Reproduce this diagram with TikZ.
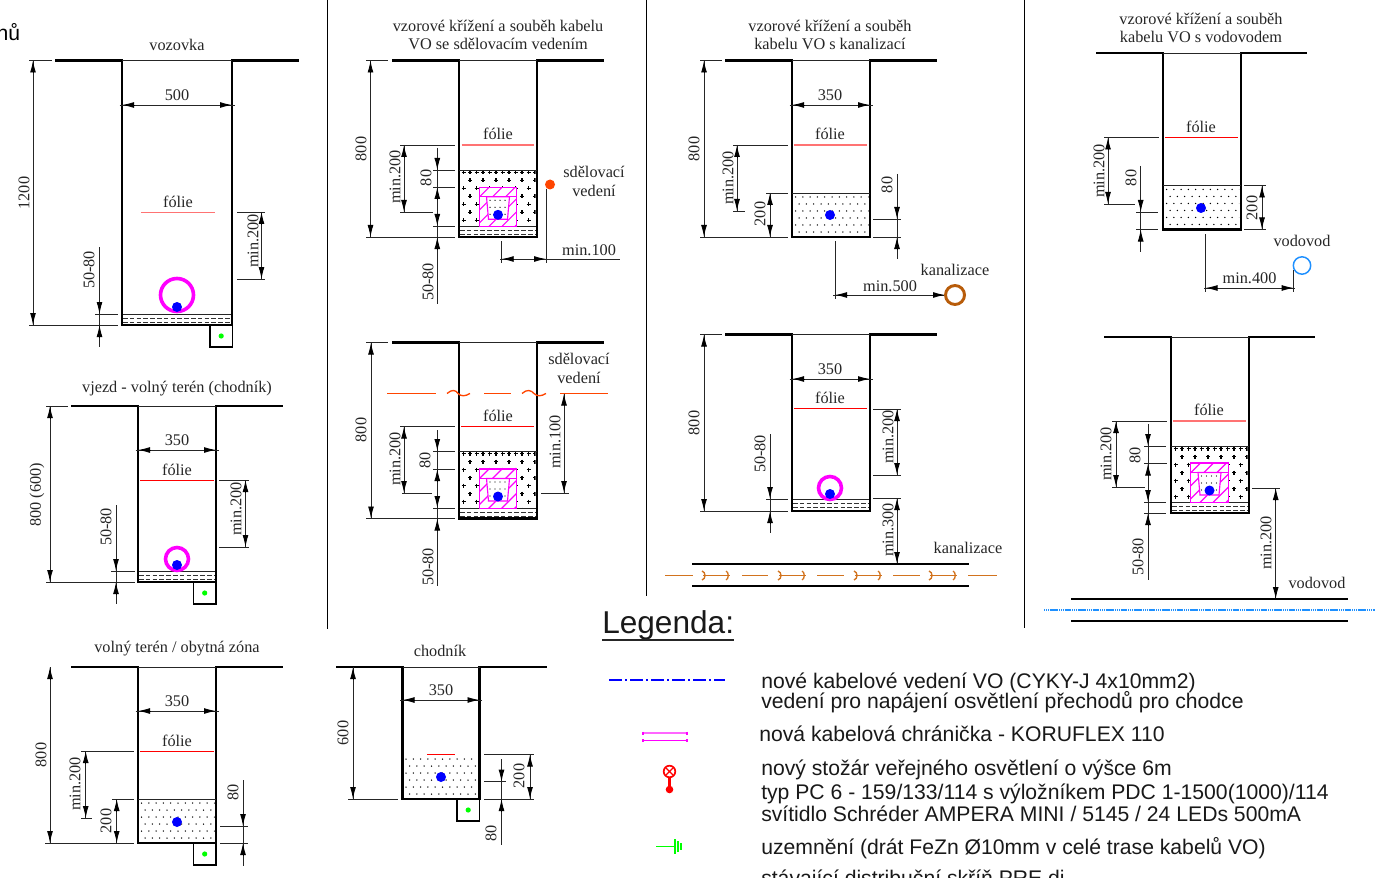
\documentclass[tikz,border=0pt]{standalone}
\usepackage{fontspec}
\setmainfont{Liberation Serif}
\newfontfamily\legfont{Liberation Sans}
\usetikzlibrary{arrows.meta}
\definecolor{mg}{RGB}{255,0,255}
\definecolor{mglight}{RGB}{255,102,255}
\definecolor{sew}{RGB}{210,115,30}
\definecolor{sewc}{RGB}{184,92,10}
\definecolor{wat}{RGB}{30,144,255}
\definecolor{com}{RGB}{255,69,0}
\definecolor{gr}{RGB}{0,255,0}
\newcounter{lb}
\tikzset{
  lbl/.style={inner sep=0pt,font=\fontsize{12.2}{14}\selectfont,text=black!85},
  vlbl/.style={lbl,rotate=90},
  leg/.style={inner sep=0pt,anchor=base west,font=\legfont\fontsize{15.87}{18}\selectfont,text=black!90},
  wall/.style={line width=1.9pt,line join=miter,line cap=butt},
  dim/.style={line width=0.65pt,black!85},
  tip/.style={line width=0.65pt,black,-{Latex[length=9pt,width=4.4pt]}},
  folieA/.style={line width=1.3pt,color=red!55!white},
  folieB/.style={line width=1pt,color=red},
  tube/.style={line width=2.7pt,color=mg},
  bluedot/.style={fill=blue,draw=none},
  greendot/.style={fill=gr,draw=none},
  sewer/.style={line width=1pt,color=sew},
  mag/.style={line width=0.85pt,color=mg}
}
\newcommand\lab[3]{\stepcounter{lb}\node[lbl] (t\arabic{lb}) at (#1,#2) {#3};}
\newcommand\vlab[3]{\stepcounter{lb}\node[vlbl] (t\arabic{lb}) at (#1,#2) {#3};}
\newcommand\legt[3]{\stepcounter{lb}\node[leg] (t\arabic{lb}) at (#1,#2) {#3};}
\newcommand\trench[6]{%
  \draw[wall] (#5,#3)--(#1,#3)--(#1,#4)--(#2,#4)--(#2,#3)--(#6,#3);
  \draw[dim] (#1,#3)--(#2,#3);}
\newcommand\hl[3]{\draw[dim] (#1,#3)--(#2,#3);}
\newcommand\vl[3]{\draw[dim] (#1,#2)--(#1,#3);}
\newcommand\tipd[2]{\draw[tip] (#1,#2-12)--(#1,#2);}
\newcommand\tipu[2]{\draw[tip] (#1,#2+12)--(#1,#2);}
\newcommand\tipl[2]{\draw[tip] (#1+12,#2)--(#1,#2);}
\newcommand\tipr[2]{\draw[tip] (#1-12,#2)--(#1,#2);}
\newcommand\vd[3]{\vl{#1}{#2}{#3}\tipu{#1}{#2}\tipd{#1}{#3}}
\newcommand\hd[3]{\draw[dim] (#1-2.5,#3)--(#2+2.5,#3);\tipl{#1}{#3}\tipr{#2}{#3}}
\newcommand\dotsfill[4]{%
  \begin{scope}
    \clip (#1,#3) rectangle (#2,#4);
    \foreach \r in {0,...,7}{\foreach \c in {0,...,11}{
      \pgfmathsetmacro\xx{#1+2+\c*7.3+mod(\r,2)*3.6}
      \pgfmathsetmacro\yy{#3+4+\r*7}
      \fill[black] (\xx,\yy) circle (0.75);
    }}
  \end{scope}}
\newcommand\plusfill[4]{%
  \begin{scope}
    \clip (#1,#3) rectangle (#2,#4);
    \foreach \r in {0,...,7}{\foreach \c in {0,...,6}{
      \pgfmathsetmacro\xx{#1+3+\c*13+mod(\r,2)*6.5}
      \pgfmathsetmacro\yy{#3+2.5+\r*8}
      \draw[black,line width=0.85pt] (\xx-2,\yy)--(\xx+2,\yy) (\xx,\yy-2)--(\xx,\yy+2);
    }}
    \foreach \c in {0,...,5}{
      \pgfmathsetmacro\xx{#1+9.5+\c*13}
      \pgfmathsetmacro\yy{#3+2.5}
      \draw[black,line width=0.85pt] (\xx-2,\yy)--(\xx+2,\yy) (\xx,\yy-2)--(\xx,\yy+2);
    }
  \end{scope}}
\newcommand\bed[3]{%
  \draw[dim] (#1+1,#3)--(#2-1,#3);
  \draw[black!80,line width=0.5pt,dash pattern=on 3.5pt off 1.6pt] (#1+1,#3+4.5)--(#2-1,#3+4.5);
  \draw[black!80,line width=0.5pt,dash pattern=on 3.5pt off 1.6pt] (#1+1,#3+8.5)--(#2-1,#3+8.5);}
\newcommand\conduit[2]{%
  \begin{scope}
    \clip (#1-18.7,#2) rectangle (#1+18.7,#2+39.5);
    \fill[white] (#1-18.7,#2) rectangle (#1+18.7,#2+39.5);
    \foreach \k in {0,...,8}{
      \draw[mag] (#1-64+\k*13,#2+42)--(#1-64+\k*13+44,#2-2);
    }
  \end{scope}
  \draw[mag] (#1-18.7,#2) rectangle (#1+18.7,#2+39.5);
  \draw[mag] (#1-18.7,#2+9.5)--(#1+18.7,#2+9.5);
  \fill[white] (#1-11.5,#2+9.5)--(#1+11.5,#2+9.5)--(#1+9.5,#2+32)--(#1-9.5,#2+32)--cycle;
  \draw[mag] (#1-11.5,#2+9.5)--(#1+11.5,#2+9.5)--(#1+9.5,#2+32)--(#1-9.5,#2+32)--cycle;
  \foreach \yy in {13,20,27}{\foreach \dx in {-8,-3,2,7}{
    \fill[black] (#1+\dx,#2+\yy) circle (0.7);}}
  \fill[bluedot] (#1,#2+27.5) circle (5);}
\newcommand\gbox[2]{%
  \draw[line width=1.3pt] (#1,#2)--(#1,#2+22)--(#1+22.5,#2+22)--(#1+22.5,#2);
  \fill[greendot] (#1+11.2,#2+11) circle (2.6);}
\newcommand\swseg[1]{%
  \draw[sewer] (#1,575.5)--(#1+27,575.5);
  \draw[sewer] (#1-1,571) .. controls (#1+3,572) and (#1+3,579) .. (#1-1,580);
  \draw[sewer] (#1+23,571) .. controls (#1+26,572) and (#1+26,579) .. (#1+23,580);}
\begin{document}
\begin{tikzpicture}[x=0.75pt,y=-0.75pt]
\clip (0,0) rectangle (1383,877);
\fill[white] (0,0) rectangle (1383,877);

\draw[line width=0.7pt] (327,0)--(327,629);
\draw[line width=0.7pt] (646,0)--(646,596);
\draw[line width=0.7pt] (1024,0)--(1024,628);

\stepcounter{lb}\node[inner sep=0pt,anchor=base east,font=\legfont\fontsize{15.87}{18}\selectfont] (t\arabic{lb}) at (20.5,41) {nů};

%%% 1 vozovka
\bed{122}{232}{314}
\trench{122}{232}{60.5}{325}{55}{299}
\gbox{210}{325}
\lab{177}{45}{vozovka}
\hd{122}{232}{105}\lab{177}{95}{500}
\hl{29}{52}{60.5}\hl{29}{118}{325}
\vd{33}{60.5}{325}\vlab{24}{193}{1200}
\vl{99.5}{247}{347}\tipd{99.5}{314}\tipu{99.5}{325}\hl{95}{118}{314}
\vlab{89}{270}{50-80}
\lab{178}{202}{fólie}\draw[folieA] (141,212.5)--(215,212.5);
\hl{237}{265}{212}\hl{237}{265}{279}\vd{261.5}{212}{279}\vlab{253}{241}{min.200}
\draw[tube] (177,295) circle (16.5);
\fill[bluedot] (177,307) circle (5);

%%% 2 vjezd
\bed{138}{216}{571}
\trench{138}{216}{406}{582}{71}{283}
\gbox{193.5}{582}
\lab{177}{388.5}{vjezd - volný terén (chodník)}
\hd{138}{216}{450}\lab{177}{440}{350}
\lab{177}{470}{fólie}\draw[folieB] (140,480.5)--(214,480.5);
\hl{46}{68}{406}\hl{46}{135}{582}\vd{50}{406}{582}\vlab{37}{495}{800 (600)}
\vl{116}{505}{604}\tipd{116}{571}\tipu{116}{582}\hl{111}{135}{571}\vlab{106}{527}{50-80}
\hl{219}{249}{480}\hl{219}{249}{547}\vd{245.5}{480}{547}\vlab{236}{509}{min.200}
\draw[tube] (177,559) circle (11.5);
\fill[bluedot] (177,565) circle (5);

%%% 3 volny teren
\dotsfill{139.5}{214.5}{799}{843}
\trench{138}{216}{667}{843}{71}{283}
\hl{138}{216}{799}
\gbox{193.5}{843}
\lab{177}{648.5}{volný terén / obytná zóna}
\hd{138}{216}{711}\lab{177}{701}{350}
\lab{177}{741}{fólie}\draw[folieB] (140,751.5)--(214,751.5);
\hl{45}{134}{843}\vd{50}{667}{843}\vlab{41}{755}{800}
\hl{81}{134}{751}\hl{81}{92}{818}\vd{85.7}{751}{818}\vlab{75}{784}{min.200}
\hl{112}{134}{799}\vd{116.7}{799}{843}\vlab{106}{821}{200}
\vl{243}{780}{866}\tipd{243}{826}\tipu{243}{843}\hl{220}{248}{826}\hl{220}{248}{843}\vlab{233}{792}{80}
\fill[bluedot] (177,822) circle (5);

%%% 4 chodnik
\dotsfill{404}{478}{755}{799}
\trench{402.5}{479.5}{667}{799}{336}{547}
\gbox{457}{799}
\lab{440}{651}{chodník}
\hd{402.5}{479.5}{700}\lab{441}{690}{350}
\hl{348}{398}{799}\vd{353}{667}{799}\vlab{343}{733}{600}
\draw[line width=1.3pt,red] (427,754.5)--(455,754.5);
\hl{484}{534}{754.5}\hl{484}{534}{799}\vd{530}{754.5}{799}\vlab{519}{776}{200}
\vl{501.5}{759}{845}\tipd{501.5}{781.7}\tipu{501.5}{799}\hl{484}{506}{781.7}\vlab{491}{833}{80}
\fill[bluedot] (441,777) circle (5);

%%% 5 sdelovaci top
\plusfill{460.5}{535.5}{170}{226}
\bed{459}{537}{226}
\conduit{498}{187.3}
\trench{459}{537}{60.5}{237}{392}{604}
\hl{459}{537}{170}
\lab{498}{26}{vzorové křížení a souběh kabelu}
\lab{498}{44}{VO se sdělovacím vedením}
\hl{366}{388}{60.5}\hl{366}{455}{237}\vd{370.5}{60.5}{237}\vlab{361}{149}{800}
\lab{498}{134}{fólie}\draw[folieA] (461.5,145)--(534,145);
\hl{400}{455}{145}\hl{400}{433}{212}\vd{404}{145}{212}\vlab{395}{177}{min.200}
\vl{437.3}{148}{304}\tipd{437.3}{170}\tipu{437.3}{187}\tipd{437.3}{226}\tipu{437.3}{237}
\hl{433}{455}{170}\hl{433}{455}{187}\hl{433}{455}{226}
\vlab{426}{178}{80}\vlab{428}{282}{50-80}
\fill[com] (550,184.5) circle (5);
\lab{594}{172}{sdělovací}\lab{594}{191}{vedení}
\vl{546}{189}{263}\vl{501.7}{241}{263}
\draw[dim] (500,259)--(620,259);\tipl{501.7}{259}\tipr{546}{259}
\lab{589}{250}{min.100}

%%% 6 sdelovaci bottom
\plusfill{460.5}{535.5}{451}{508}
\bed{459}{537}{508}
\conduit{498}{469}
\trench{459}{537}{342.5}{518.5}{392}{604}
\hl{459}{537}{451}
\hl{366}{388}{342.5}\hl{366}{455}{518.5}\vd{371}{342.5}{518.5}\vlab{361}{430}{800}
\begin{scope}[line width=1pt,color=com]
\draw (387,393.5)--(436,393.5) (484,393.5)--(511,393.5) (560,393.5)--(608,393.5);
\draw (447,393.5) .. controls (452,389) and (456,390) .. (458,393.5) .. controls (461,396.5) and (465,396.5) .. (470,393.5);
\draw (522,393.5) .. controls (527,389) and (531,390) .. (534,393.5) .. controls (537,396.5) and (541,396.5) .. (546,393.5);
\end{scope}
\lab{579}{358.5}{sdělovací}\lab{579}{378}{vedení}
\lab{498}{416}{fólie}\draw[folieB] (461,426.5)--(534,426.5);
\hl{400}{455}{426.5}\hl{402}{432}{493}\vd{404}{426.5}{493}\vlab{395}{459}{min.200}
\vl{437.3}{430}{586}\tipd{437.3}{451}\tipu{437.3}{469}\tipd{437.3}{508}\tipu{437.3}{518.5}
\hl{433}{455}{451}\hl{433}{455}{469}\hl{433}{455}{508}
\vlab{425}{460}{80}\vlab{428}{567}{50-80}
\hl{541}{569}{493}\vd{564}{393.5}{493}\vlab{555}{442}{min.100}

%%% 7 kanalizace top
\dotsfill{793.5}{868.5}{193}{237}
\trench{792}{870}{60.5}{237}{725}{937}
\hl{792}{870}{193}
\lab{830}{26}{vzorové křížení a souběh}
\lab{830}{44}{kabelu VO s kanalizací}
\hd{792}{870}{105}\lab{830}{95}{350}
\lab{830}{134}{fólie}\draw[folieA] (794,145)--(867,145);
\hl{700}{722}{60.5}\hl{700}{788}{237}\vd{704}{60.5}{237}\vlab{694}{149}{800}
\hl{733}{788}{145}\hl{733}{745}{211}\vd{737}{145}{211}\vlab{728}{178}{min.200}
\hl{766}{788}{193}\vd{770}{193}{237}\vlab{760}{214}{200}
\vl{897}{174}{259}\tipd{897}{219}\tipu{897}{237}\hl{873}{901}{219}\hl{873}{901}{237}\vlab{887}{185}{80}
\fill[bluedot] (830,215) circle (5);
\vl{835}{241}{299}
\draw[dim] (833,295)--(945,295);\tipl{835}{295}\tipr{945}{295}
\lab{890}{286}{min.500}
\draw[line width=2.2pt,color=sewc] (955,295) circle (9.5);
\lab{955}{270}{kanalizace}

%%% 8 kanalizace bottom
\bed{792}{870}{499}
\trench{792}{870}{334.5}{511}{725}{937}
\hd{792}{870}{379}\lab{830}{369}{350}
\lab{830}{398}{fólie}\draw[folieB] (794,408.5)--(867,408.5);
\hl{700}{722}{334.5}\hl{700}{788}{511}\vd{704}{334.5}{511}\vlab{694}{423}{800}
\vl{770}{434}{533}\tipd{770}{499}\tipu{770}{511}\hl{766}{788}{499}\vlab{760}{454}{50-80}
\hl{873}{901}{409}\hl{873}{901}{475}\vd{897}{409}{475}\vlab{888}{437}{min.200}
\hl{873}{901}{498}\vd{897}{498}{564}\vlab{888}{530}{min.300}
\draw[tube] (830,488) circle (11.5);
\fill[bluedot] (830,494) circle (5);
\draw[line width=1.4pt] (692,564)--(969,564) (692,586)--(969,586);
\draw[sewer] (665,575.5)--(693,575.5) (742,575.5)--(768,575.5) (817,575.5)--(844,575.5) (893,575.5)--(920,575.5) (968,575.5)--(997,575.5);
\swseg{703}\swseg{779}\swseg{855}\swseg{930}
\lab{968}{548}{kanalizace}

%%% 9 vodovod top
\dotsfill{1164.5}{1239}{185.5}{229.5}
\trench{1163}{1241}{53}{229.5}{1096}{1307}
\hl{1163}{1241}{185.5}
\lab{1201}{19}{vzorové křížení a souběh}
\lab{1201}{37}{kabelu VO s vodovodem}
\lab{1201}{127}{fólie}\draw[folieB] (1165,137.5)--(1238,137.5);
\hl{1104}{1159}{137.5}\hl{1104}{1135}{204}\vd{1108}{137.5}{204}\vlab{1099}{171}{min.200}
\vl{1140.7}{166}{252}\tipd{1140.7}{212}\tipu{1140.7}{229.5}\hl{1136}{1158}{212}\hl{1136}{1158}{229.5}\vlab{1131}{178}{80}
\hl{1244}{1266}{185.5}\hl{1244}{1266}{229.5}\vd{1262}{185.5}{229.5}\vlab{1252}{208}{200}
\fill[bluedot] (1201,208) circle (5);
\vl{1205.5}{234}{292}\vl{1293.7}{270}{292}
\draw[dim] (1204,288)--(1295,288);\tipl{1205.5}{288}\tipr{1293.7}{288}
\lab{1249.5}{278}{min.400}
\draw[line width=1.1pt,color=wat] (1302,265.5) circle (8.7);
\lab{1302}{241}{vodovod}

%%% 10 vodovod bottom
\plusfill{1172.5}{1247.5}{446}{502}
\bed{1171}{1249}{502}
\conduit{1209.5}{463}
\trench{1171}{1249}{337}{513}{1104}{1315}
\hl{1171}{1249}{446}
\lab{1209}{410}{fólie}\draw[folieA] (1173,421)--(1246,421);
\hl{1112}{1167}{421}\hl{1112}{1145}{487}\vd{1116}{421}{487}\vlab{1106}{454}{min.200}
\vl{1148}{424}{580}\tipd{1148}{446}\tipu{1148}{463.5}\tipd{1148}{502}\tipu{1148}{513}
\hl{1144}{1166}{446}\hl{1144}{1167}{463.5}\hl{1144}{1166}{502}\hl{1144}{1166}{513}
\vlab{1135}{455}{80}\vlab{1138}{557}{50-80}
\hl{1252}{1280}{488}\vd{1275.7}{488}{599}\vlab{1266}{543}{min.200}
\draw[line width=1.4pt] (1071,599)--(1348,599) (1071,621)--(1348,621);
\draw[line width=1.1pt,color=wat,dash pattern=on 1pt off 0.4pt] (1044,610)--(1375,610);
\lab{1317}{583}{vodovod}

%%% legend
\stepcounter{lb}\node[inner sep=0pt,anchor=base west,font=\legfont\fontsize{23.7}{26}\selectfont,text=black!90] (t\arabic{lb}) at (602,633) {Legenda:};
\draw[line width=0.9pt,black!85] (602,640)--(734,640);
\draw[line width=1.7pt,blue,dash pattern=on 9.75pt off 2.25pt on 1.5pt off 2.25pt] (609,680)--(725,680);
\draw[line width=1.5pt,color=mglight] (643,733.3)--(687,733.3);
\draw[line width=0.8pt,color=mg] (643,731.5)--(643,735) (687,731.5)--(687,735) (643,739)--(643,742) (687,739)--(687,742) (643,740.7)--(687,740.7);
\begin{scope}[color=red]
\draw[line width=1.3pt] (669.5,771.5) circle (5.8);
\draw[line width=0.9pt] (666.2,768.2)--(672.8,774.8) (666.2,774.8)--(672.8,768.2);
\draw[line width=1.6pt] (669.5,777.5)--(669.5,789);
\fill (669.5,789.5) circle (3.8);
\end{scope}
\begin{scope}[color=gr,line width=0.8pt]
\draw (656,846.5)--(675,846.5) (675,839)--(675,854) (678,841)--(678,852) (681,843)--(681,850);
\end{scope}
\legt{761}{688}{nové kabelové vedení VO (CYKY-J 4x10mm2)}
\legt{761}{708}{vedení pro napájení osvětlení přechodů pro chodce}
\legt{759}{741}{nová kabelová chránička - KORUFLEX 110}
\legt{761}{775}{nový stožár veřejného osvětlení o výšce 6m}
\legt{761}{799}{typ PC 6 - 159/133/114 s výložníkem PDC 1-1500(1000)/114}
\legt{761}{821}{svítidlo Schréder AMPERA MINI / 5145 / 24 LEDs 500mA}
\legt{761}{854}{uzemnění (drát FeZn Ø10mm v celé trase kabelů VO)}
\legt{761}{885}{stávající distribuční skříň PRE di}
\end{tikzpicture}
\end{document}
